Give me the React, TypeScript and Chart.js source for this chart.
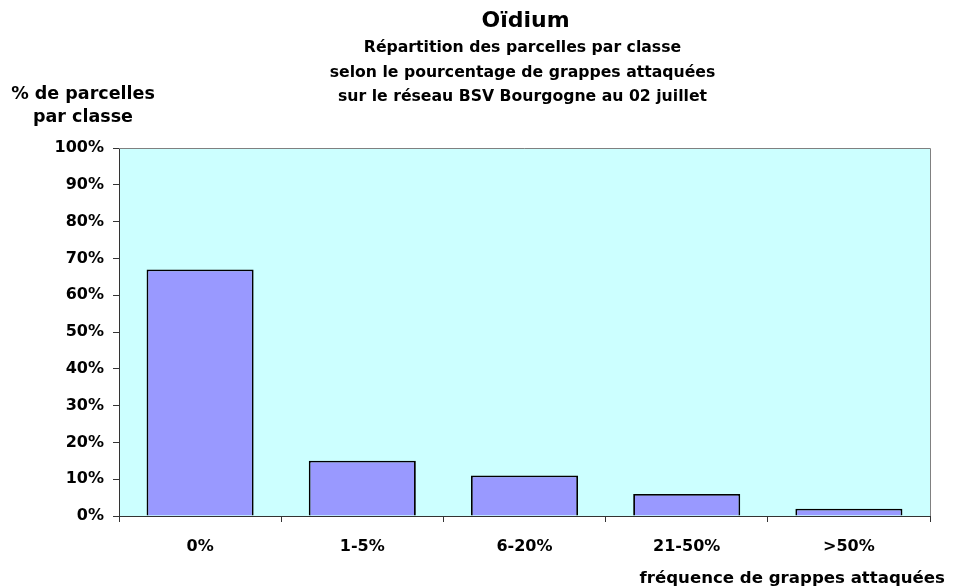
import React, { useEffect, useRef } from "react";
import { Chart, registerables } from "chart.js";

Chart.register(...registerables);

const categories = ["0%", "1-5%", "6-20%", "21-50%", ">50%"];
const values = [67, 15, 11, 6, 2];
const yTicks = [0, 10, 20, 30, 40, 50, 60, 70, 80, 90, 100];
const titleText = "Oïdium";
const subtitleLines = [
  "Répartition des parcelles par classe",
  "selon le pourcentage de grappes attaquées",
  "sur le réseau BSV Bourgogne au 02 juillet",
];
const yTitleLines = ["% de parcelles", "par classe"];
const xTitleText = "fréquence de grappes attaquées";

const FONT = "'DejaVu Sans', sans-serif";

const decorPlugin = {
  id: "decor",
  beforeDraw(chart: any) {
    const { ctx, chartArea } = chart;
    ctx.save();
    ctx.fillStyle = "#CCFFFF";
    ctx.fillRect(chartArea.left, chartArea.top, chartArea.right - chartArea.left, chartArea.bottom - chartArea.top);
    ctx.restore();
  },
  beforeDatasetsDraw(chart: any) {
    const { ctx, chartArea } = chart;
    ctx.save();
    ctx.strokeStyle = "#808080";
    ctx.lineWidth = 1;
    ctx.beginPath();
    ctx.moveTo(chartArea.left, chartArea.top + 0.5);
    ctx.lineTo(chartArea.right + 0.5, chartArea.top + 0.5);
    ctx.lineTo(chartArea.right + 0.5, chartArea.bottom);
    ctx.stroke();
    ctx.restore();
  },
  afterDraw(chart: any) {
    const { ctx, chartArea } = chart;
    const cx = (chartArea.left + chartArea.right) / 2 - 2;
    ctx.save();
    ctx.fillStyle = "#000";
    ctx.textAlign = "center";
    ctx.textBaseline = "alphabetic";
    ctx.font = `bold 22px ${FONT}`;
    ctx.fillText(titleText, cx + 3, 27);
    ctx.font = `bold 15.7px ${FONT}`;
    subtitleLines.forEach((l, i) => ctx.fillText(l, cx, 52 + i * 24.5));
    ctx.font = `bold 17.5px ${FONT}`;
    yTitleLines.forEach((l, i) => ctx.fillText(l, 83, 99 + i * 23));
    ctx.font = `bold 16.6px ${FONT}`;
    ctx.textAlign = "right";
    ctx.fillText(xTitleText, 945, 583);
    ctx.restore();
  },
};

export default function App() {
  const ref = useRef<HTMLCanvasElement>(null);
  useEffect(() => {
    if (!ref.current) return;
    const chart = new Chart(ref.current, {
      type: "bar",
      data: {
        labels: categories,
        datasets: [
          {
            data: values,
            backgroundColor: "#9999FF",
            borderColor: "#000000",
            borderWidth: 1.8,
            categoryPercentage: 1,
            barPercentage: 0.66,
          },
        ],
      },
      options: {
        animation: false,
        responsive: true,
        maintainAspectRatio: false,
        layout: { padding: { top: 148, right: 26, left: 0, bottom: 0 } },
        plugins: { legend: { display: false }, tooltip: { enabled: false }, title: { display: false } },
        scales: {
          x: {
            offset: true,
            grid: { display: true, offset: true, drawOnChartArea: false, drawTicks: true, tickLength: 6, color: "#333" },
            border: { display: true, color: "#333", width: 1 },
            ticks: { color: "#000", font: { family: FONT, size: 16, weight: "bold" }, padding: 15, maxRotation: 0 },
            afterFit: (s: any) => { s.height = 72; },
          },
          y: {
            min: 0,
            max: 100,
            afterBuildTicks: (s: any) => { s.ticks = yTicks.map((v) => ({ value: v })); },
            grid: { display: true, drawOnChartArea: false, drawTicks: true, tickLength: 6, color: "#333" },
            border: { display: true, color: "#333", width: 1 },
            ticks: {
              color: "#000",
              font: { family: FONT, size: 16, weight: "bold" },
              padding: 9,
              callback: (v: any) => `${v}%`,
            },
            afterFit: (s: any) => { s.width = 119; },
          },
        },
      },
      plugins: [decorPlugin],
    });
    return () => chart.destroy();
  }, []);
  return (
    <div style={{ position: "absolute", left: 0, top: 0, width: 956, height: 588, background: "#fff" }}>
      <canvas ref={ref} />
    </div>
  );
}
